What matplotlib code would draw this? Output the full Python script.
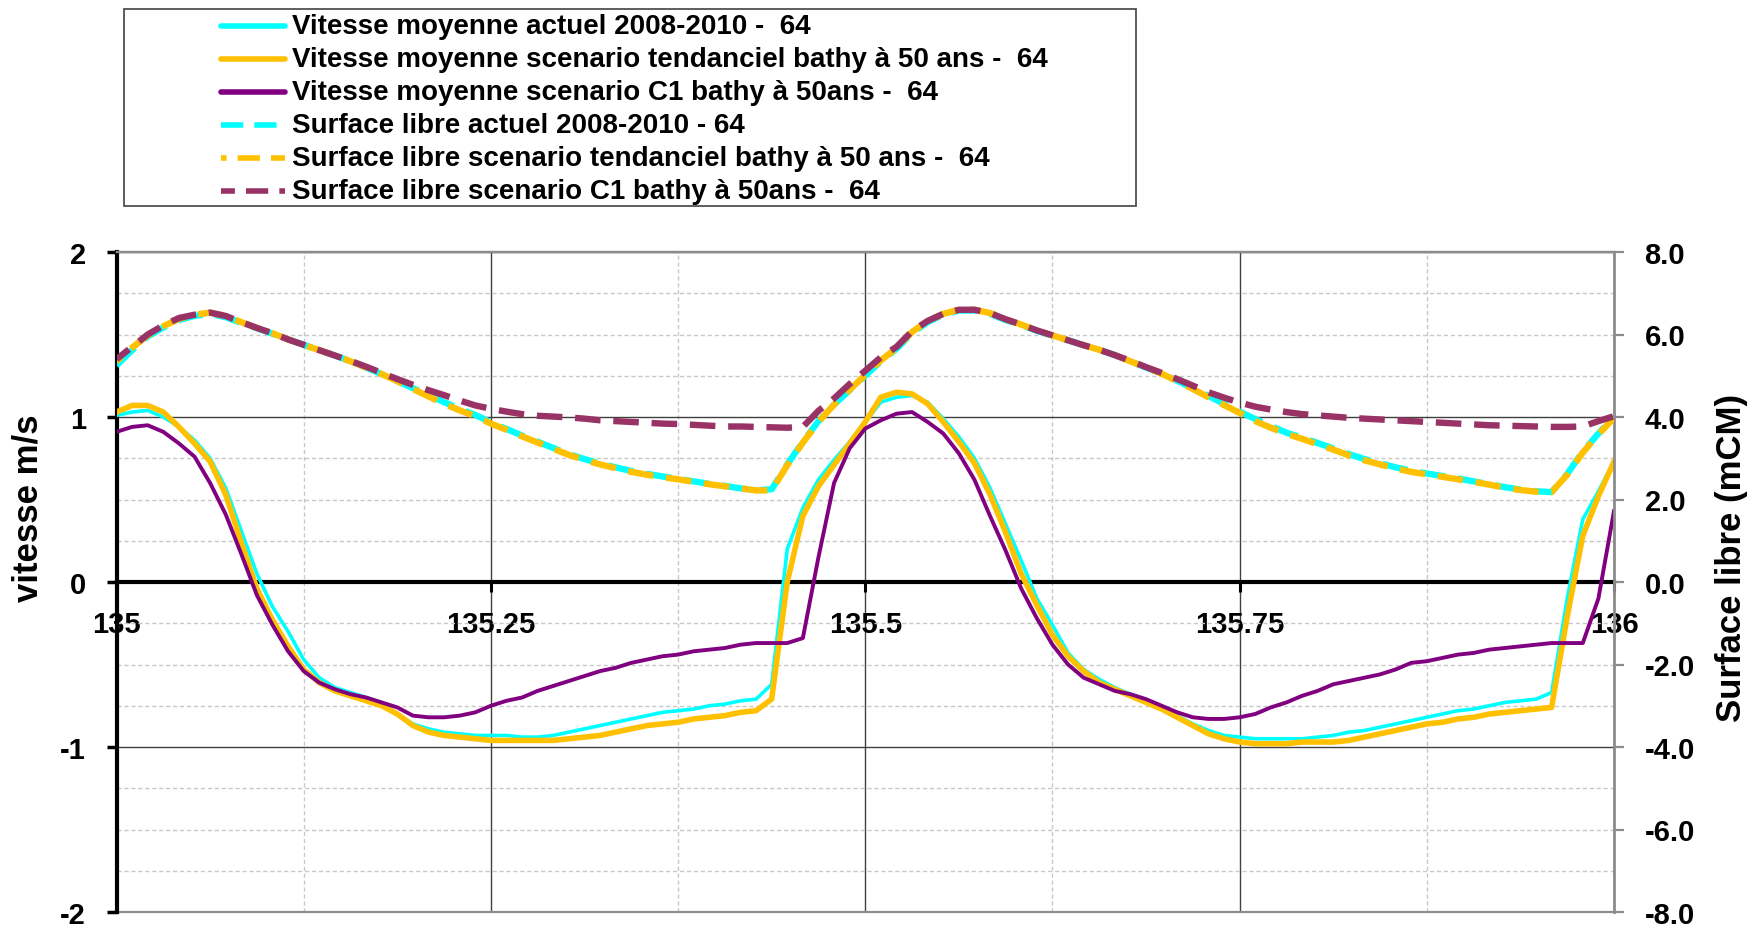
import numpy as np
import matplotlib
matplotlib.use("Agg")
import matplotlib.pyplot as plt
from matplotlib.lines import Line2D
from matplotlib.patches import Rectangle
from matplotlib.ticker import MultipleLocator, FuncFormatter

# ---------------------------------------------------------------------------
# Données : jour julien 135 -> 136, pas de 15 minutes (97 instants)
# ---------------------------------------------------------------------------
temps = np.linspace(135.0, 136.0, 97)

# Vitesse moyenne (m/s)
vit_actuel = [
    1.01, 1.03, 1.04, 1.00, 0.94, 0.86, 0.75, 0.57, 0.31, 0.05,
    -0.15, -0.30, -0.47, -0.58, -0.64, -0.67, -0.70, -0.73, -0.80, -0.86,
    -0.89, -0.91, -0.92, -0.93, -0.93, -0.93, -0.94, -0.94, -0.93, -0.91,
    -0.89, -0.87, -0.85, -0.83, -0.81, -0.79, -0.78, -0.77, -0.75, -0.74,
    -0.72, -0.71, -0.62, 0.20, 0.45, 0.62, 0.74, 0.85, 0.97, 1.09,
    1.12, 1.13, 1.09, 0.99, 0.88, 0.75, 0.57, 0.35, 0.13, -0.10,
    -0.26, -0.43, -0.53, -0.59, -0.64, -0.68, -0.72, -0.76, -0.81, -0.86,
    -0.90, -0.93, -0.94, -0.95, -0.95, -0.95, -0.95, -0.94, -0.93, -0.91,
    -0.90, -0.88, -0.86, -0.84, -0.82, -0.80, -0.78, -0.77, -0.75, -0.73,
    -0.72, -0.71, -0.67, -0.10, 0.38, 0.55, 0.73,
]
vit_tendanciel = [
    1.03, 1.07, 1.07, 1.03, 0.94, 0.84, 0.73, 0.53, 0.24, -0.04,
    -0.23, -0.39, -0.53, -0.61, -0.66, -0.69, -0.72, -0.75, -0.80, -0.87,
    -0.91, -0.93, -0.94, -0.95, -0.96, -0.96, -0.96, -0.96, -0.96, -0.95,
    -0.94, -0.93, -0.91, -0.89, -0.87, -0.86, -0.85, -0.83, -0.82, -0.81,
    -0.79, -0.78, -0.71, 0.00, 0.40, 0.58, 0.71, 0.84, 0.97, 1.12,
    1.15, 1.14, 1.08, 0.97, 0.85, 0.72, 0.53, 0.30, 0.05, -0.14,
    -0.32, -0.45, -0.54, -0.61, -0.65, -0.69, -0.73, -0.77, -0.82, -0.87,
    -0.92, -0.95, -0.97, -0.98, -0.98, -0.98, -0.97, -0.97, -0.97, -0.96,
    -0.94, -0.92, -0.90, -0.88, -0.86, -0.85, -0.83, -0.82, -0.80, -0.79,
    -0.78, -0.77, -0.76, -0.21, 0.28, 0.52, 0.73,
]
vit_c1 = [
    0.91, 0.94, 0.95, 0.91, 0.84, 0.76, 0.60, 0.41, 0.17, -0.08,
    -0.26, -0.42, -0.54, -0.61, -0.65, -0.68, -0.70, -0.73, -0.76, -0.81,
    -0.82, -0.82, -0.81, -0.79, -0.75, -0.72, -0.70, -0.66, -0.63, -0.60,
    -0.57, -0.54, -0.52, -0.49, -0.47, -0.45, -0.44, -0.42, -0.41, -0.40,
    -0.38, -0.37, -0.37, -0.37, -0.34, 0.15, 0.60, 0.81, 0.93, 0.98,
    1.02, 1.03, 0.97, 0.90, 0.78, 0.62, 0.40, 0.19, -0.04, -0.22,
    -0.38, -0.50, -0.58, -0.62, -0.66, -0.68, -0.71, -0.75, -0.79, -0.82,
    -0.83, -0.83, -0.82, -0.80, -0.76, -0.73, -0.69, -0.66, -0.62, -0.60,
    -0.58, -0.56, -0.53, -0.49, -0.48, -0.46, -0.44, -0.43, -0.41, -0.40,
    -0.39, -0.38, -0.37, -0.37, -0.37, -0.10, 0.43,
]

# Surface libre (mCM)
surf_actuel = [
    5.25, 5.62, 5.95, 6.17, 6.35, 6.45, 6.50, 6.42, 6.28, 6.15,
    6.02, 5.88, 5.75, 5.62, 5.49, 5.35, 5.20, 5.04, 4.87, 4.70,
    4.53, 4.36, 4.20, 4.05, 3.87, 3.71, 3.55, 3.40, 3.25, 3.10,
    2.98, 2.87, 2.78, 2.69, 2.62, 2.56, 2.50, 2.44, 2.38, 2.33,
    2.27, 2.22, 2.25, 2.85, 3.40, 3.90, 4.30, 4.65, 5.00, 5.35,
    5.65, 6.03, 6.30, 6.48, 6.58, 6.58, 6.50, 6.35, 6.23, 6.09,
    5.97, 5.86, 5.74, 5.63, 5.50, 5.35, 5.20, 5.05, 4.88, 4.70,
    4.51, 4.32, 4.13, 3.95, 3.78, 3.62, 3.50, 3.37, 3.24, 3.10,
    2.98, 2.88, 2.78, 2.70, 2.63, 2.57, 2.51, 2.44, 2.37, 2.30,
    2.24, 2.20, 2.18, 2.62, 3.16, 3.60, 4.00,
]
surf_tendanciel = [
    5.35, 5.68, 5.98, 6.20, 6.38, 6.48, 6.53, 6.45, 6.30, 6.16,
    6.03, 5.88, 5.75, 5.62, 5.49, 5.35, 5.20, 5.04, 4.87, 4.68,
    4.50, 4.32, 4.16, 4.02, 3.84, 3.69, 3.53, 3.38, 3.23, 3.08,
    2.96, 2.85, 2.76, 2.67, 2.60, 2.54, 2.49, 2.43, 2.37, 2.32,
    2.27, 2.22, 2.22, 2.83, 3.38, 3.88, 4.30, 4.66, 5.02, 5.37,
    5.67, 6.06, 6.33, 6.50, 6.60, 6.60, 6.52, 6.37, 6.24, 6.10,
    5.98, 5.86, 5.74, 5.63, 5.50, 5.35, 5.20, 5.05, 4.87, 4.68,
    4.48, 4.29, 4.10, 3.90, 3.74, 3.59, 3.47, 3.34, 3.21, 3.07,
    2.95, 2.85, 2.75, 2.67, 2.61, 2.55, 2.49, 2.43, 2.36, 2.29,
    2.23, 2.19, 2.18, 2.60, 3.14, 3.58, 3.98,
]
surf_c1 = [
    5.40, 5.70, 6.00, 6.22, 6.40, 6.48, 6.53, 6.45, 6.30, 6.16,
    6.03, 5.88, 5.75, 5.62, 5.49, 5.36, 5.22, 5.07, 4.92, 4.78,
    4.65, 4.53, 4.40, 4.28, 4.20, 4.13, 4.07, 4.03, 4.01, 3.99,
    3.96, 3.92, 3.90, 3.88, 3.86, 3.84, 3.83, 3.81, 3.79, 3.77,
    3.77, 3.76, 3.75, 3.74, 3.76, 4.15, 4.45, 4.80, 5.12, 5.45,
    5.70, 6.08, 6.33, 6.50, 6.60, 6.60, 6.52, 6.37, 6.24, 6.10,
    5.98, 5.86, 5.74, 5.63, 5.50, 5.36, 5.21, 5.07, 4.92, 4.76,
    4.60, 4.47, 4.35, 4.25, 4.18, 4.12, 4.07, 4.04, 4.01, 3.98,
    3.96, 3.94, 3.92, 3.90, 3.88, 3.86, 3.84, 3.82, 3.80, 3.79,
    3.78, 3.77, 3.76, 3.76, 3.77, 3.90, 4.02,
]

labels = [
    "Vitesse moyenne actuel 2008-2010 -  64",
    "Vitesse moyenne scenario tendanciel bathy à 50 ans -  64",
    "Vitesse moyenne scenario C1 bathy à 50ans -  64",
    "Surface libre actuel 2008-2010 - 64",
    "Surface libre scenario tendanciel bathy à 50 ans -  64",
    "Surface libre scenario C1 bathy à 50ans -  64",
]

# ---------------------------------------------------------------------------
# Styles
# ---------------------------------------------------------------------------
CYAN, OR, VIOLET, PRUNE = "#00FFFF", "#FFC000", "#800080", "#993366"
DASH_ON, DASH_OFF = 4.0, 2.0
styles = [
    dict(color=CYAN, lw=2.6, ls="-"),
    dict(color=OR, lw=4.0, ls="-"),
    dict(color=VIOLET, lw=2.8, ls="-"),
    dict(color=CYAN, lw=4.6, ls=(0, (DASH_ON, DASH_OFF))),
    dict(color=OR, lw=4.6, ls=(3.0, (DASH_ON, DASH_OFF))),
    dict(color=PRUNE, lw=4.6, ls=(1.5, (DASH_ON, DASH_OFF))),
]

plt.rcParams["font.family"] = ["Liberation Sans", "DejaVu Sans"]
plt.rcParams["font.weight"] = "bold"

W, H = 1753, 929
fig = plt.figure(figsize=(W / 100, H / 100), dpi=100)
fig.patch.set_facecolor("white")


def fx(px):
    return px / W


def fy(py):
    return 1 - py / H


left, right, top, bottom = 116.5, 1614, 253, 913
ax = fig.add_axes([fx(left), fy(bottom), (right - left) / W, (bottom - top) / H])
ax2 = ax.twinx()

# ---------------------------------------------------------------------------
# Courbes
# ---------------------------------------------------------------------------
lines = []
for serie, st in zip([vit_actuel, vit_tendanciel, vit_c1], styles[:3]):
    (ln,) = ax.plot(temps, serie, color=st["color"], lw=st["lw"], ls=st["ls"],
                    solid_joinstyle="round", zorder=3)
    lines.append(ln)
for serie, st in zip([surf_actuel, surf_tendanciel, surf_c1], styles[3:]):
    (ln,) = ax2.plot(temps, serie, color=st["color"], lw=st["lw"], ls=st["ls"],
                     dash_capstyle="butt", zorder=3)
    lines.append(ln)

# ---------------------------------------------------------------------------
# Axes
# ---------------------------------------------------------------------------
ax.set_xlim(135, 136)
ax.set_ylim(-2, 2)
ax2.set_ylim(-8, 8)

ax.xaxis.set_major_locator(MultipleLocator(0.25))
ax.xaxis.set_minor_locator(MultipleLocator(0.125))
ax.yaxis.set_major_locator(MultipleLocator(1))
ax.yaxis.set_minor_locator(MultipleLocator(0.25))
ax2.yaxis.set_major_locator(MultipleLocator(2))
ax.xaxis.set_major_formatter(FuncFormatter(lambda v, p: f"{v:g}"))
ax.yaxis.set_major_formatter(FuncFormatter(lambda v, p: f"{v:g}"))
ax2.yaxis.set_major_formatter(FuncFormatter(lambda v, p: f"{v:.1f}"))

ax.set_axisbelow(True)
ax.grid(which="major", color="#404040", lw=1.0)
ax.grid(which="minor", color="#C8C8C8", lw=1.0, ls=(0, (3, 2)))

for a in (ax, ax2):
    a.spines["top"].set_color("#8C8C8C")
    a.spines["top"].set_linewidth(1.6)
ax.spines["right"].set_visible(False)
ax2.spines["left"].set_visible(False)
ax2.spines["bottom"].set_visible(False)
ax2.spines["right"].set_color("#8C8C8C")
ax2.spines["right"].set_linewidth(2.0)

ax.spines["left"].set_color("black")
ax.spines["left"].set_linewidth(3.0)
ax.spines["bottom"].set_position(("data", 0))
ax.spines["bottom"].set_color("black")
ax.spines["bottom"].set_linewidth(3.0)
ax.spines["bottom"].set_zorder(2.6)
ax.axhline(-2, color="#8C8C8C", lw=1.6, clip_on=False, zorder=2.4)

ax.tick_params(axis="x", which="major", direction="out", length=7, width=2.2,
               color="black", pad=13, labelsize=21)
ax.tick_params(axis="y", which="major", direction="out", length=7, width=2.5,
               color="black", pad=15, labelsize=21)
ax.tick_params(which="minor", length=0)
ax2.tick_params(axis="y", which="major", direction="out", length=7, width=1.6,
                color="#8C8C8C", pad=15, labelsize=21)
for lab in ax.get_xticklabels() + ax.get_yticklabels() + ax2.get_yticklabels():
    lab.set_fontweight("bold")

fig.text(fx(28), fy(508), "vitesse m/s", rotation=90, ha="center", va="center",
         fontsize=25, fontweight="bold")
fig.text(fx(1732), fy(558), "Surface libre (mCM)", rotation=90, ha="center",
         va="center", fontsize=25, fontweight="bold")

# ---------------------------------------------------------------------------
# Légende
# ---------------------------------------------------------------------------
fig.patches.append(Rectangle((fx(124), fy(207)), (1136 - 124) / W, (207 - 10) / H,
                             transform=fig.transFigure, facecolor="white",
                             edgecolor="#505050", lw=1.3, zorder=1))
row0, dy = 27, 33
for i, (ln, lab) in enumerate(zip(lines, labels)):
    yy = fy(row0 + i * dy)
    fig.add_artist(Line2D([fx(221), fx(285)], [yy, yy], transform=fig.transFigure,
                          color=ln.get_color(), lw=4.0,
                          ls=styles[i]["ls"] if i >= 3 else "-",
                          solid_capstyle="round", dash_capstyle="butt"))
    fig.text(fx(292), yy, lab, ha="left", va="center", fontweight="bold",
             fontsize=20)

fig.savefig("out.png", dpi=100, facecolor="white")
